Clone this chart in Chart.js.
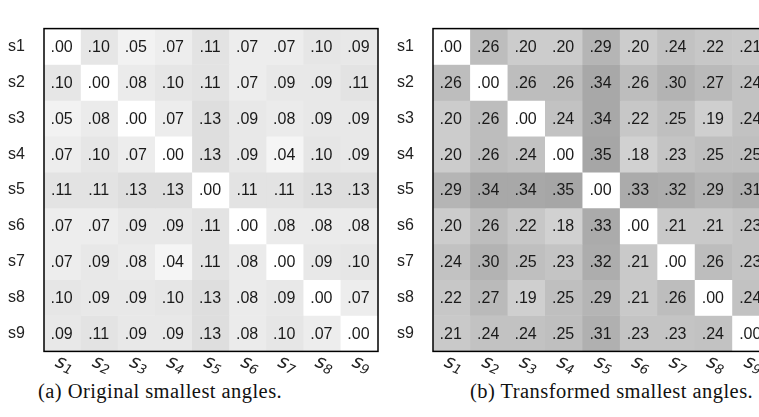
<!DOCTYPE html>
<html>
<head>
<meta charset="utf-8">
<script src="https://cdn.jsdelivr.net/npm/chart.js@4.4.0/dist/chart.umd.min.js"></script>
<style>
html, body { margin: 0; padding: 0; background: #fff; }
body { width: 759px; height: 417px; overflow: hidden; position: relative; }
.panel { position: absolute; top: 0; height: 380px; }
#wrapA { left: 0; width: 380px; }
#wrapB { left: 380px; width: 400px; }
.caption { position: absolute; top: 380px; font-family: "Liberation Serif", serif; font-size: 20.5px; letter-spacing: 0.45px; color: #111; white-space: nowrap; }
</style>
</head>
<body>
<div class="panel" id="wrapA"><canvas id="orig" width="380" height="380"></canvas></div>
<div class="panel" id="wrapB"><canvas id="trans" width="400" height="380"></canvas></div>
<div class="caption" style="left:38px">(a) Original smallest angles.</div>
<div class="caption" style="left:470px">(b) Transformed smallest angles.</div>
<script>
const rowLabels = ['s1', 's2', 's3', 's4', 's5', 's6', 's7', 's8', 's9'];
const colLabels = ['1', '2', '3', '4', '5', '6', '7', '8', '9'];

const originalAngles = [
    [.00, .10, .05, .07, .11, .07, .07, .10, .09],
    [.10, .00, .08, .10, .11, .07, .09, .09, .11],
    [.05, .08, .00, .07, .13, .09, .08, .09, .09],
    [.07, .10, .07, .00, .13, .09, .04, .10, .09],
    [.11, .11, .13, .13, .00, .11, .11, .13, .13],
    [.07, .07, .09, .09, .11, .00, .08, .08, .08],
    [.07, .09, .08, .04, .11, .08, .00, .09, .10],
    [.10, .09, .09, .10, .13, .08, .09, .00, .07],
    [.09, .11, .09, .09, .13, .08, .10, .07, .00],
];

const transformedAngles = [
    [.00, .26, .20, .20, .29, .20, .24, .22, .21],
    [.26, .00, .26, .26, .34, .26, .30, .27, .24],
    [.20, .26, .00, .24, .34, .22, .25, .19, .24],
    [.20, .26, .24, .00, .35, .18, .23, .25, .25],
    [.29, .34, .34, .35, .00, .33, .32, .29, .31],
    [.20, .26, .22, .18, .33, .00, .21, .21, .23],
    [.24, .30, .25, .23, .32, .21, .00, .26, .23],
    [.22, .27, .19, .25, .29, .21, .26, .00, .24],
    [.21, .24, .24, .25, .31, .23, .23, .24, .00],
];

const FONT = 'Arial, "Liberation Sans", sans-serif';

// gray_r colormap, 0 -> white, 1 -> black
const grayOf = (v) => {
    const g = Math.round(255 * (1 - v));
    return `rgb(${g}, ${g}, ${g})`;
};

const cellText = {
    id: 'cellText',
    afterDatasetsDraw(chart) {
        const ctx = chart.ctx;
        ctx.save();
        ctx.font = `16px ${FONT}`;
        ctx.fillStyle = '#1a1a1a';
        ctx.textAlign = 'center';
        ctx.textBaseline = 'middle';
        chart.data.datasets.forEach((ds, i) => {
            chart.getDatasetMeta(i).data.forEach((bar, j) => {
                const txt = ds.values[j].toFixed(2).replace(/^0/, '');
                ctx.fillText(txt, bar.x - 1, (bar.y + bar.base) / 2 + 1);
            });
        });
        ctx.restore();
    },
};

const frame = {
    id: 'frame',
    afterDraw(chart) {
        const { ctx, chartArea: a } = chart;
        ctx.save();
        ctx.strokeStyle = '#000';
        ctx.lineWidth = 1.5;
        ctx.strokeRect(a.left, a.top, a.right - a.left, a.bottom - a.top);
        ctx.restore();
    },
};

// rotated italic s_i labels under each column
const subLabels = {
    id: 'subLabels',
    afterDraw(chart) {
        const { ctx, chartArea: a } = chart;
        const xs = chart.scales.x;
        ctx.save();
        ctx.fillStyle = '#222';
        ctx.textBaseline = 'middle';
        colLabels.forEach((lab, i) => {
            ctx.save();
            ctx.translate(xs.getPixelForValue(i) + 1, a.bottom + 15);
            ctx.rotate(22 * Math.PI / 180);
            ctx.font = `italic 19px "DejaVu Sans", sans-serif`;
            ctx.textAlign = 'right';
            ctx.fillText('s', 1, -2);
            ctx.font = `italic 13px "DejaVu Sans", sans-serif`;
            ctx.textAlign = 'left';
            ctx.fillText(lab, 1, 2);
            ctx.restore();
        });
        ctx.restore();
    },
};

function makeHeatmap(id, matrix, yWidth, pad) {
    const datasets = matrix.map((row, r) => ({
        data: colLabels.map(() => [r + 0.5, r + 1.5]),
        values: row,
        backgroundColor: row.map(grayOf),
        borderWidth: 0,
        grouped: false,
        barPercentage: 1,
        categoryPercentage: 1,
    }));

    new Chart(document.getElementById(id), {
        type: 'bar',
        data: { labels: colLabels, datasets: datasets },
        options: {
            responsive: false,
            animation: false,
            layout: { padding: pad },
            plugins: { legend: { display: false }, tooltip: { enabled: false } },
            scales: {
                x: {
                    type: 'category',
                    grid: { display: false, drawTicks: false },
                    border: { display: false },
                    ticks: { display: false },
                    afterFit: (s) => { s.height = 28; },
                },
                y: {
                    type: 'linear',
                    min: 0.5,
                    max: 9.5,
                    reverse: true,
                    grid: { display: false, drawTicks: false },
                    border: { display: false },
                    afterBuildTicks: (s) => { s.ticks = rowLabels.map((_, i) => ({ value: i + 1 })); },
                    ticks: {
                        autoSkip: false,
                        padding: 19,
                        color: '#222',
                        font: { family: FONT, size: 16 },
                        callback: (v) => rowLabels[v - 1],
                    },
                    afterFit: (s) => { s.width = yWidth; },
                },
            },
        },
        plugins: [cellText, frame, subLabels],
    });
}

makeHeatmap('orig', originalAngles, 44, { top: 6, right: 2, left: 0, bottom: 0 });
makeHeatmap('trans', transformedAngles, 53, { top: 12, right: 10, left: 0, bottom: 0 });
</script>
</body>
</html>
